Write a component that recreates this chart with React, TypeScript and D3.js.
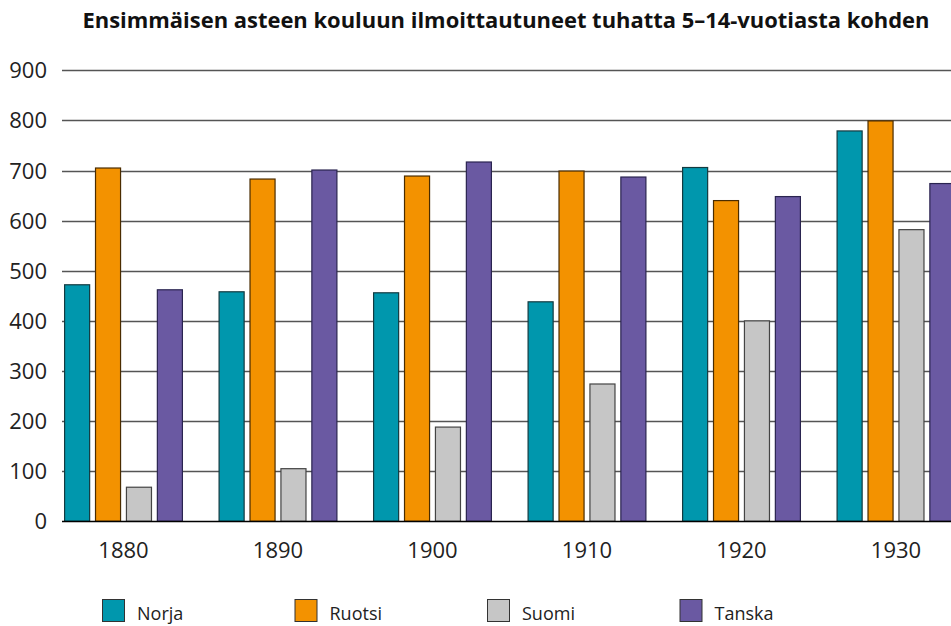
import React from "react";
import * as d3 from "d3";

const years = ["1880", "1890", "1900", "1910", "1920", "1930"];
const seriesNames = ["Norja", "Ruotsi", "Suomi", "Tanska"];
const norja = [472, 458, 456, 438, 706, 779];
const ruotsi = [705, 683, 689, 699, 640, 799];
const suomi = [68, 105, 188, 274, 400, 582];
const tanska = [462, 701, 717, 687, 648, 674];
const yTicks = [0, 100, 200, 300, 400, 500, 600, 700, 800, 900];
const colors = ["#0097ad", "#f39200", "#c6c6c6", "#6a59a2"];
const strokes = ["#133a40", "#4a2c00", "#444", "#2a2450"];

const W = 951, H = 626;

export default function App() {
  const allSeries = [norja, ruotsi, suomi, tanska];
  const x = d3.scaleBand().domain(years).range([46.25, 973.25]).paddingInner(0).paddingOuter(0);
  const y = d3.scaleLinear().domain([0, 900]).range([521.3, 70.3]);
  const sub = d3.scaleBand().domain(seriesNames).range([-62, 62]).paddingInner(0.19).paddingOuter(0.1);
  const font = "'Segoe UI', 'Open Sans', 'Noto Sans', sans-serif";
  return (
    <svg width={W} height={H} style={{ position: "absolute", left: 0, top: 0, background: "#fff" }}>
      <text x={506} y={28} textAnchor="middle" fontFamily="'Open Sans', sans-serif" fontWeight="bold" fontSize={21.5} fill="#111" textLength={847} lengthAdjust="spacingAndGlyphs">
        Ensimmäisen asteen kouluun ilmoittautuneet tuhatta 5–14-vuotiasta kohden
      </text>
      {yTicks.filter(t => t > 0).map(t => (
        <line key={t} x1={62} x2={W} y1={Math.round(y(t)) + 0.5} y2={Math.round(y(t)) + 0.5} stroke="#555" strokeWidth={1.3} />
      ))}
      {yTicks.map(t => (
        <text key={"l" + t} x={47} y={y(t) + 8} textAnchor="end" fontFamily={font} fontSize={22} fill="#222">{t}</text>
      ))}
      {years.map((yr, i) => (
        <g key={yr}>
          {allSeries.map((s, j) => {
            const cx = x(yr)! + x.bandwidth() / 2;
            const bx = cx + sub(seriesNames[j])!;
            return (
              <rect key={j} x={bx} y={y(s[i])} width={sub.bandwidth()} height={y(0) - y(s[i])}
                fill={colors[j]} stroke={strokes[j]} strokeWidth={1.2} />
            );
          })}
          <text x={x(yr)! + x.bandwidth() / 2} y={558} textAnchor="middle" fontFamily={font} fontSize={22} fill="#222">{yr}</text>
        </g>
      ))}
      <line x1={62} x2={W} y1={521.5} y2={521.5} stroke="#000" strokeWidth={1.5} />
      {seriesNames.map((n, j) => (
        <g key={n}>
          <rect x={102.5 + j * 192.5} y={599.5} width={22} height={22} fill={colors[j]} stroke="#333" strokeWidth={1} />
          <text x={137 + j * 192.5} y={620} fontFamily={font} fontSize={18} fill="#222">{n}</text>
        </g>
      ))}
    </svg>
  );
}
